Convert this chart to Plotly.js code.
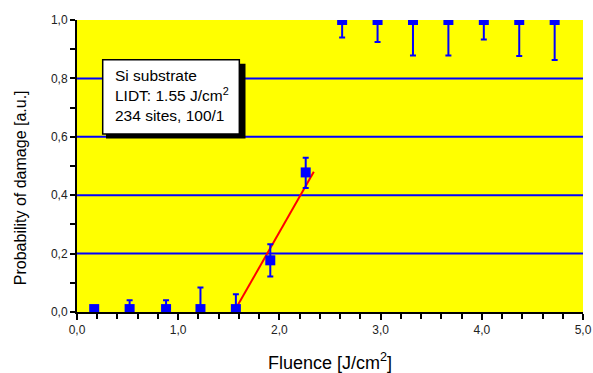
<!DOCTYPE html>
<html>
<head>
<meta charset="utf-8">
<script src="https://cdn.plot.ly/plotly-3.0.1.min.js"></script>
<style>
  html, body { margin: 0; padding: 0; background: #ffffff; }
  #chart { width: 593px; height: 373px; }
</style>
</head>
<body>
<div id="chart"></div>
<script>
// Damage probability vs. fluence for the Si substrate test (100-on-1)
const fluence      = [0.17, 0.52, 0.88, 1.22, 1.57, 1.91, 2.26, 2.62, 2.97, 3.32, 3.67, 4.02, 4.37, 4.72];
const probability  = [0.01, 0.01, 0.01, 0.01, 0.01, 0.177, 0.478, 1, 1, 1, 1, 1, 1, 1];
const errUpper     = [0, 0.03, 0.03, 0.074, 0.051, 0.055, 0.05, 0, 0, 0, 0, 0, 0, 0];
const errLower     = [0, 0, 0, 0, 0, 0.055, 0.053, 0.06, 0.075, 0.122, 0.122, 0.067, 0.123, 0.137];

// Linear fit of the onset region; zero crossing gives the LIDT
const lidt   = 1.55;
const fitX   = [lidt, 2.34];
const fitY   = [0, 0.48];

// Horizontal reference lines
const gridLevels = [0.2, 0.4, 0.6, 0.8];

const infoLines = ['Si substrate', 'LIDT: ' + lidt.toFixed(2) + ' J/cm<sup>2</sup>', '234 sites, 100/1'];

const FONT = '"Liberation Sans", Arial, sans-serif';
const BLUE = '#0000ff';

const traces = [
  {
    x: fitX, y: fitY,
    type: 'scatter', mode: 'lines',
    line: { color: '#ff0000', width: 2 },
    hoverinfo: 'skip'
  },
  {
    x: fluence, y: probability,
    type: 'scatter', mode: 'markers',
    marker: { symbol: 'square', size: 10, color: BLUE, line: { width: 0 } },
    error_y: {
      type: 'data', symmetric: false,
      array: errUpper, arrayminus: errLower,
      color: BLUE, thickness: 2, width: 3
    },
    cliponaxis: true
  }
];

const shapes = gridLevels.map(v => ({
  type: 'line', xref: 'paper', yref: 'y',
  x0: 0, x1: 1, y0: v, y1: v,
  line: { color: BLUE, width: 2 },
  layer: 'below'
}));

// Info box with drop shadow
shapes.push({
  type: 'rect', xref: 'paper', yref: 'paper',
  x0: 0.0573, x1: 0.333, y0: 0.594, y1: 0.850,
  fillcolor: '#000000', line: { width: 0 }, layer: 'above'
});
shapes.push({
  type: 'rect', xref: 'paper', yref: 'paper',
  x0: 0.0508, x1: 0.3208, y0: 0.6096, y1: 0.8635,
  fillcolor: '#ffffff', line: { color: '#000000', width: 1.5 }, layer: 'above'
});

const layout = {
  width: 593, height: 373,
  margin: { l: 77, r: 10, t: 20, b: 61, pad: 0 },
  paper_bgcolor: '#ffffff',
  plot_bgcolor: '#ffff00',
  showlegend: false,
  separators: ',.',
  font: { family: FONT, color: '#222222', size: 12 },
  xaxis: {
    range: [0, 5], autorange: false,
    dtick: 1, tick0: 0, tickformat: '.1f',
    ticks: 'outside', ticklen: 6, tickwidth: 2, tickcolor: '#000000',
    minor: { dtick: 0.2, ticks: 'outside', ticklen: 5, tickwidth: 2, tickcolor: '#000000', showgrid: false },
    showline: true, linecolor: '#000000', linewidth: 2,
    showgrid: false, zeroline: false,
    tickfont: { family: FONT, size: 12, color: '#222222' },
    title: { text: 'Fluence [J/cm<sup>2</sup>]', font: { family: FONT, size: 18, color: '#000000' }, standoff: 22 }
  },
  yaxis: {
    range: [0, 1], autorange: false,
    dtick: 0.2, tick0: 0, tickformat: '.1f',
    ticks: 'outside', ticklen: 5, tickwidth: 2, tickcolor: '#000000',
    minor: { dtick: 0.1, ticks: 'outside', ticklen: 5, tickwidth: 2, tickcolor: '#000000', showgrid: false },
    showline: true, linecolor: '#000000', linewidth: 2,
    showgrid: false, zeroline: false,
    tickfont: { family: FONT, size: 12, color: '#222222' }
  },
  shapes: shapes,
  annotations: [
    {
      xref: 'paper', yref: 'paper',
      x: -0.1126, y: 0.424, xanchor: 'center', yanchor: 'middle',
      text: 'Probability of damage [a.u.]',
      textangle: -90, showarrow: false,
      font: { family: FONT, size: 16, color: '#000000' }
    },
    {
      xref: 'paper', yref: 'paper',
      x: 0.0711, y: 0.845, xanchor: 'left', yanchor: 'top',
      align: 'left', showarrow: false,
      text: infoLines.join('<br>'),
      font: { family: FONT, size: 15.5, color: '#000000' }
    }
  ]
};

Plotly.newPlot('chart', traces, layout, { staticPlot: true, displayModeBar: false });
</script>
</body>
</html>
